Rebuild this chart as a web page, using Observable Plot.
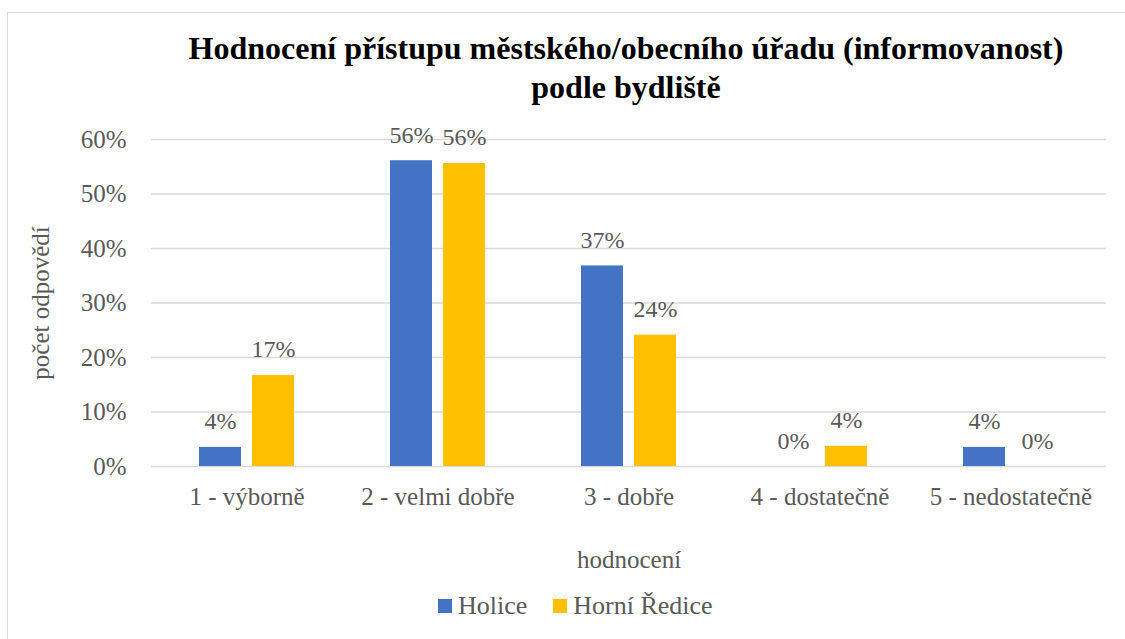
<!DOCTYPE html>
<html>
<head>
<meta charset="utf-8">
<script src="https://cdn.jsdelivr.net/npm/d3@7"></script>
<script src="https://cdn.jsdelivr.net/npm/@observablehq/plot@0.6"></script>
<style>
  html, body { margin: 0; padding: 0; background: #fff; overflow: hidden; }
  #wrap { position: relative; width: 1125px; height: 639px; font-family: "Liberation Serif", "Times New Roman", serif; }
  #frame { position: absolute; left: 7px; top: 12px; width: 1130px; height: 640px; border: 1px solid #d9d9d9; box-sizing: border-box; }
  #title { position: absolute; left: 0; top: 29px; width: 1252px; text-align: center; font-weight: bold; font-size: 32px; line-height: 39px; color: #000; }
  #chart { position: absolute; left: 0; top: 0; }
  #chart svg text { font-family: "Liberation Serif", "Times New Roman", serif; }
  #legend { position: absolute; top: 590px; left: 438px; display: flex; align-items: center; font-size: 26px; line-height: 32px; color: #595959; }
  .sw { display: inline-block; width: 14px; height: 14px; margin-right: 6px; }
  .item { display: flex; align-items: center; margin-right: 26px; }
</style>
</head>
<body>
<div id="wrap">
  <div id="frame"></div>
  <div id="title">Hodnocení přístupu městského/obecního úřadu (informovanost)<br>podle bydliště</div>
  <div id="chart"></div>
  <div id="legend"></div>
</div>
<script>
const categories = ["1 - výborně", "2 - velmi dobře", "3 - dobře", "4 - dostatečně", "5 - nedostatečně"];
const series = ["Holice", "Horní Ředice"];
const holice = [0.035, 0.561, 0.368, 0, 0.035];
const horniRedice = [0.167, 0.556, 0.241, 0.037, 0];
const colors = ["#4472C4", "#FFC000"];
const yTicks = [0, 0.1, 0.2, 0.3, 0.4, 0.5, 0.6];

const data = [];
categories.forEach((c, i) => {
  data.push({category: c, series: series[0], value: holice[i]});
  data.push({category: c, series: series[1], value: horniRedice[i]});
});
const pct = d3.format(".0%");

const chart = Plot.plot({
  width: 1125,
  height: 639,
  marginTop: 139,
  marginBottom: 173,
  marginLeft: 150,
  marginRight: 18,
  style: {fontFamily: "Liberation Serif, Times New Roman, serif", fontSize: "25px", color: "#595959", background: "transparent", overflow: "visible"},
  fx: {domain: categories, padding: 0, axis: "bottom", tickSize: 0, tickPadding: 21, label: "hodnocení", labelAnchor: "center", labelOffset: 101, labelArrow: "none"},
  x: {domain: series, paddingInner: 0.2, paddingOuter: 0.872, axis: null},
  y: {domain: [0, 0.6], ticks: 6, tickFormat: pct, tickSize: 0, tickPadding: 25, label: "počet odpovědí", labelAnchor: "center", labelOffset: 120, labelArrow: "none"},
  color: {domain: series, range: colors},
  marks: [
    Plot.ruleY(yTicks, {stroke: "#d9d9d9", strokeWidth: 1.3}),
    Plot.barY(data, {fx: "category", x: "series", y: "value", fill: "series"}),
    Plot.text(data, {fx: "category", x: "series", y: "value", text: d => pct(d.value), dy: -18, lineAnchor: "bottom", fill: "#595959", fontSize: 24})
  ]
});
document.getElementById("chart").appendChild(chart);

const legend = document.getElementById("legend");
series.forEach((s, i) => {
  const item = document.createElement("div");
  item.className = "item";
  const sw = document.createElement("span");
  sw.className = "sw";
  sw.style.background = colors[i];
  item.appendChild(sw);
  item.appendChild(document.createTextNode(s));
  legend.appendChild(item);
});
</script>
</body>
</html>
